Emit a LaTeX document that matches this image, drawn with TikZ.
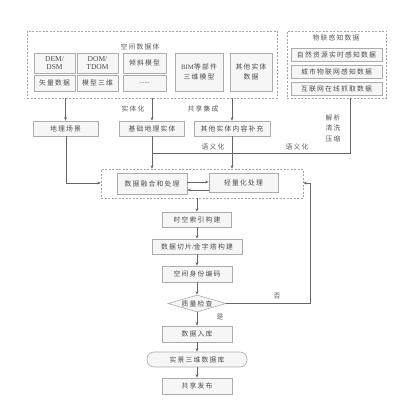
\documentclass[tikz,border=0pt]{standalone}
\usepackage{fontspec}
\setmainfont{Liberation Serif}
\newfontfamily\cjk[LetterSpace=18]{Noto Sans CJK SC}
\newcommand{\lat}[1]{{\rmfamily #1}}
\usetikzlibrary{arrows.meta,shapes.geometric,fit,calc}
\begin{document}
\begin{tikzpicture}[x=1pt,y=-1pt,
  every node/.style={font=\cjk\fontsize{6.8}{8.5}\selectfont, text=black!70, inner sep=0pt, align=center},
  box/.style={draw=gray!65, fill=gray!7, line width=0.6pt, minimum width=#1},
  box/.default=70pt,
  dbox/.style={draw=gray!70, dashed, dash pattern=on 2pt off 1.5pt, line width=0.5pt, inner sep=0pt},
  conn/.style={draw=black!60, line width=0.6pt},
  arr/.style={conn, -{Stealth[length=3.5pt,width=2.8pt]}},
  lbl/.style={text=black!65}
]
\useasboundingbox (0,0) rectangle (411,401);

% spatial data dashed box
\coordinate (spA) at (27,31);
\coordinate (spB) at (277,98);
\node[dbox, fit=(spA)(spB)] (sp) {};
\node[lbl] (sptitle) at (140,47) {空间数据体};
\node[box=41pt, minimum height=20pt, font=\rmfamily\fontsize{7.5}{8}\selectfont] (dem) at (54.5,63) {DEM/\\DSM};
\node[box=41pt, minimum height=16pt] (vec) at (54.5,83) {矢量数据};
\node[box=41pt, minimum height=20pt, font=\rmfamily\fontsize{7.5}{8}\selectfont] (dom) at (97.5,63) {DOM/\\TDOM};
\node[box=41pt, minimum height=16pt] (mod) at (97.5,83) {模型三维};
\node[box=43pt, minimum height=20pt] (tilt) at (144.5,63) {倾斜模型};
\node[box=43pt, minimum height=16pt] (dots) at (144.5,83) {\lat{......}};
\node[box=48pt, minimum height=38pt, font=\cjk\fontsize{6.8}{10}\selectfont] (bim) at (199,72) {\lat{BIM}等部件\\三维模型};
\node[box=42pt, minimum height=38pt, font=\cjk\fontsize{6.8}{10}\selectfont] (oth) at (251,72) {其他实体\\数据};

% IoT dashed box
\coordinate (ioA) at (287,31);
\coordinate (ioB) at (386,98);
\node[dbox, fit=(ioA)(ioB)] (iot) {};
\node[lbl] (iottitle) at (336,38) {物联感知数据};
\node[box=91pt, minimum height=13pt] (iot1) at (336.5,54.5) {自然资源实时感知数据};
\node[box=91pt, minimum height=13pt] (iot2) at (336.5,71.5) {城市物联网感知数据};
\node[box=91pt, minimum height=13pt] (iot3) at (336.5,88.5) {互联网在线抓取数据};

% second row
\node[box=65pt, minimum height=15pt] (geo) at (65.5,128.5) {地理场景};
\node[box=65pt, minimum height=15pt] (base) at (152,128.5) {基础地理实体};
\node[box=76pt, minimum height=15pt] (other) at (232,128.5) {其他实体内容补充};

% fusion dashed box
\coordinate (fuA) at (101,169);
\coordinate (fuB) at (303,198);
\node[dbox, fit=(fuA)(fuB)] (fus) {};
\node[box=70pt, minimum height=21pt] (fuse) at (152,183.5) {数据融合和处理};
\node[box=69pt, minimum height=19pt] (light) at (243.5,182.5) {轻量化处理};

% main flow
\node[box=69pt, minimum height=15pt] (idx) at (197,219.5) {时空索引构建};
\node[box=90pt, minimum height=15pt] (tile) at (197,246.5) {数据切片\lat{/}金字塔构建};
\node[box=70pt, minimum height=16pt] (code) at (197,274) {空间身份编码};
\node[diamond, aspect=3.4, draw=gray!65, fill=gray!7, line width=0.6pt, minimum width=58pt, minimum height=17pt] (qc) at (197,303.5) {质量检查};
\node[box=70pt, minimum height=16pt] (db) at (197,334) {数据入库};
\node[box=100pt, minimum height=15pt, rounded corners=7pt] (real) at (197,359.5) {实景三维数据库};
\node[box=70pt, minimum height=16pt] (pub) at (197,386) {共享发布};

% labels
\node[lbl] (l1) at (133,109) {实体化};
\node[lbl] (l2) at (203,109) {共享集成};
\node[lbl] (l3) at (213,147) {语义化};
\node[lbl] (l4) at (297,147) {语义化};
\node[lbl, font=\cjk\fontsize{6.8}{10.5}\selectfont] (l5) at (333,128) {解析\\清洗\\压缩};
\node[lbl] (l6) at (277,296) {否};
\node[lbl] (l7) at (220,317) {是};

% connectors from top
\draw[arr] (sp.south -| geo.north) -- (geo.north);
\draw[arr] (sp.south -| base.north) -- (base.north);
\draw[arr] (sp.south -| other.north) -- (other.north);

\coordinate (j1) at (350,153);
\draw[conn] (iot.south -| j1) -- (j1) -- (j1 -| base.south);
\draw[arr] (base.south) -- (fus.north -| base.south);
\draw[arr] (other.south) -- (fus.north -| other.south);
\coordinate (j2) at (66,183);
\draw[arr] (geo.south -| j2) -- (j2) -- (j2 -| fus.west);

\coordinate (h1) at (0,182);
\coordinate (h2) at (0,190);
\draw[arr] (h1 -| fuse.east) -- (h1 -| light.west);
\draw[arr] (h2 -| light.west) -- (h2 -| fuse.east);

\draw[arr] (fus.south -| idx.north) -- (idx.north);
\draw[arr] (idx) -- (tile);
\draw[arr] (tile) -- (code);
\draw[arr] (code) -- (qc);
\draw[arr] (qc) -- (db);
\draw[arr] (db) -- (real);
\draw[arr] (real) -- (pub);

\coordinate (j3) at (310,303.5);
\coordinate (j4) at (310,183);
\draw[arr] (qc.east) -- (j3) -- (j4) -- (j4 -| fus.east);
\end{tikzpicture}
\end{document}
